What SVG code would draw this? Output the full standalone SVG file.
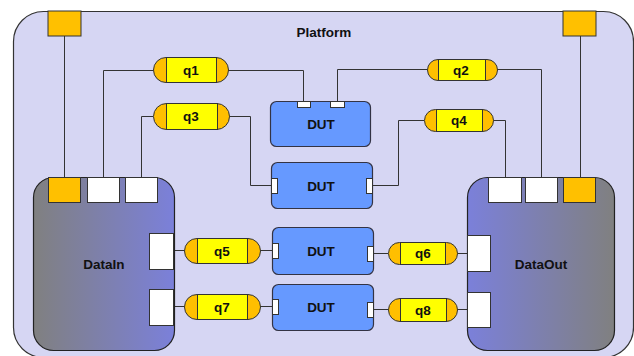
<svg xmlns="http://www.w3.org/2000/svg" width="634" height="356" viewBox="0 0 634 356">
  <defs>
    <linearGradient id="gIn" x1="0" y1="0" x2="1" y2="0">
      <stop offset="0" stop-color="#808080"/>
      <stop offset="1" stop-color="#7b80da"/>
    </linearGradient>
    <linearGradient id="gOut" x1="0" y1="0" x2="1" y2="0">
      <stop offset="0" stop-color="#7b80da"/>
      <stop offset="1" stop-color="#808080"/>
    </linearGradient>
  </defs>
  <style>
    .platform { fill: #d6d6f3; stroke: #333; stroke-width: 1.2; }
    .lbl { font-family: "Liberation Sans", Arial, sans-serif; font-weight: bold; font-size: 13.5px; fill: #111; text-anchor: middle; dominant-baseline: central; }
    .wire { fill: none; stroke: #333; stroke-width: 1; }
    .port { fill: #fff; stroke: #333; stroke-width: 1; }
    .oport { fill: #ffc000; stroke: #333; stroke-width: 1; }
    .dut { fill: #6699ff; stroke: #334; stroke-width: 1.2; }
    .cap { fill: #ffbf00; stroke: #333; stroke-width: 1; }
    .capin { fill: #ffff00; stroke: #333; stroke-width: 1; }
    .blk { stroke: #222; stroke-width: 1.2; }
  </style>

  <!-- platform container -->
  <g id="platform">
    <rect class="platform" x="13.5" y="11.5" width="620" height="346" rx="30"/>
    <text class="lbl" x="324" y="32">Platform</text>
    <rect class="oport" x="48" y="11" width="33" height="25"/>
    <rect class="oport" x="563" y="11" width="33" height="25"/>
  </g>

  <!-- connectors -->
  <g id="connectors">
    <path class="wire" d="M64.5 36 V177"/>
    <path class="wire" d="M580.5 36 V177"/>
    <path class="wire" d="M153 70.5 H103.5 V177"/>
    <path class="wire" d="M228 70.5 H303.5 V102"/>
    <path class="wire" d="M153 116.5 H141.5 V177"/>
    <path class="wire" d="M229 116.5 H250.5 V185.5 H271"/>
    <path class="wire" d="M427 69.5 H337.5 V102"/>
    <path class="wire" d="M497 69.5 H541.5 V177"/>
    <path class="wire" d="M372 185.5 H398.5 V120.5 H424"/>
    <path class="wire" d="M493 120.5 H505.5 V177"/>
    <path class="wire" d="M173 250.5 H184"/>
    <path class="wire" d="M260 250.5 H272"/>
    <path class="wire" d="M173 306.5 H184"/>
    <path class="wire" d="M260 306.5 H272"/>
    <path class="wire" d="M373 253.5 H388"/>
    <path class="wire" d="M457 253.5 H467"/>
    <path class="wire" d="M373 309.5 H388"/>
    <path class="wire" d="M457 309.5 H467"/>
  </g>

  <!-- DataIn -->
  <g id="datain">
    <rect class="blk" x="33.5" y="177.5" width="141" height="173" rx="20" fill="url(#gIn)"/>
    <rect class="oport" x="48.5" y="177.5" width="32" height="25"/>
    <rect class="port" x="87.5" y="177.5" width="32" height="25"/>
    <rect class="port" x="125.5" y="177.5" width="32" height="25"/>
    <rect class="port" x="149.5" y="233.5" width="24" height="36"/>
    <rect class="port" x="149.5" y="289.5" width="24" height="36"/>
    <text class="lbl" x="104" y="264">DataIn</text>
  </g>

  <!-- DataOut -->
  <g id="dataout">
    <rect class="blk" x="467.5" y="177.5" width="147" height="173" rx="20" fill="url(#gOut)"/>
    <rect class="port" x="488.5" y="177.5" width="33" height="25"/>
    <rect class="port" x="525.5" y="177.5" width="32" height="25"/>
    <rect class="oport" x="563.5" y="177.5" width="32" height="25"/>
    <rect class="port" x="467.5" y="235.5" width="23" height="36"/>
    <rect class="port" x="467.5" y="292.5" width="23" height="35"/>
    <text class="lbl" x="541" y="264">DataOut</text>
  </g>

  <!-- DUT blocks -->
  <g id="dut1">
    <rect class="dut" x="270.5" y="101.5" width="100" height="45" rx="6"/>
    <rect class="port" x="297.5" y="101.5" width="13" height="6"/>
    <rect class="port" x="330.5" y="101.5" width="14" height="6"/>
    <text class="lbl" x="321" y="124">DUT</text>
  </g>
  <g id="dut2">
    <rect class="dut" x="271.5" y="162.5" width="101" height="46" rx="6"/>
    <rect class="port" x="271.5" y="178.5" width="6" height="15"/>
    <rect class="port" x="366.5" y="178.5" width="6" height="15"/>
    <text class="lbl" x="321" y="186">DUT</text>
  </g>
  <g id="dut3">
    <rect class="dut" x="272.5" y="227.5" width="101" height="47" rx="6"/>
    <rect class="port" x="272.5" y="243.5" width="6" height="15"/>
    <rect class="port" x="367.5" y="246.5" width="6" height="15"/>
    <text class="lbl" x="321" y="251">DUT</text>
  </g>
  <g id="dut4">
    <rect class="dut" x="272.5" y="284.5" width="101" height="46" rx="6"/>
    <rect class="port" x="272.5" y="299.5" width="6" height="15"/>
    <rect class="port" x="367.5" y="302.5" width="6" height="15"/>
    <text class="lbl" x="321" y="307">DUT</text>
  </g>

  <!-- queues -->
  <g id="q1">
    <rect class="cap" x="153.5" y="57.5" width="75" height="25" rx="12.5"/>
    <rect class="capin" x="166.5" y="57.5" width="50" height="25"/>
    <text class="lbl" x="191" y="70">q1</text>
  </g>
  <g id="q3">
    <rect class="cap" x="153.5" y="103.5" width="76" height="26" rx="13"/>
    <rect class="capin" x="166.5" y="103.5" width="51" height="26"/>
    <text class="lbl" x="191" y="116.5">q3</text>
  </g>
  <g id="q2">
    <rect class="cap" x="427.5" y="59.5" width="70" height="21" rx="10.5"/>
    <rect class="capin" x="438.5" y="59.5" width="47" height="21"/>
    <text class="lbl" x="461" y="70">q2</text>
  </g>
  <g id="q4">
    <rect class="cap" x="424.5" y="109.5" width="69" height="22" rx="11"/>
    <rect class="capin" x="436.5" y="109.5" width="46" height="22"/>
    <text class="lbl" x="459" y="120.5">q4</text>
  </g>
  <g id="q5">
    <rect class="cap" x="184.5" y="238.5" width="76" height="25" rx="12.5"/>
    <rect class="capin" x="197.5" y="238.5" width="50" height="25"/>
    <text class="lbl" x="222" y="251">q5</text>
  </g>
  <g id="q7">
    <rect class="cap" x="184.5" y="294.5" width="76" height="25" rx="12.5"/>
    <rect class="capin" x="197.5" y="294.5" width="50" height="25"/>
    <text class="lbl" x="222" y="307">q7</text>
  </g>
  <g id="q6">
    <rect class="cap" x="388.5" y="242.5" width="69" height="22" rx="11"/>
    <rect class="capin" x="400.5" y="242.5" width="45" height="22"/>
    <text class="lbl" x="423" y="253.5">q6</text>
  </g>
  <g id="q8">
    <rect class="cap" x="388.5" y="298.5" width="69" height="23" rx="11.5"/>
    <rect class="capin" x="400.5" y="298.5" width="46" height="23"/>
    <text class="lbl" x="423" y="310">q8</text>
  </g>
</svg>
